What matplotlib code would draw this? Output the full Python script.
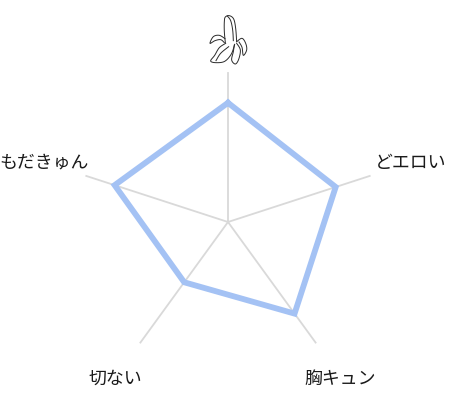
import matplotlib
matplotlib.use('Agg')
import matplotlib.pyplot as plt
import numpy as np

plt.rcParams['font.family'] = ['Noto Sans CJK JP', 'DejaVu Sans']

labels = ['', 'どエロい', '胸キュン', '切ない', 'もだきゅん']
values = [0.8, 0.76, 0.76, 0.5, 0.8]
axis_max = 1.0

W, H = 450, 403
fig = plt.figure(figsize=(W / 100, H / 100), dpi=100)

# centre of the radar is at (228, 222) px, radius 149 px
ax = fig.add_axes([(228 - 149) / W, (H - 222 - 149) / H, 298 / W, 298 / H], polar=True)
ax.set_theta_zero_location('N')
ax.set_theta_direction(-1)
ax.set_ylim(0, axis_max)
ax.axis('off')

theta = np.linspace(0, 2 * np.pi, len(values), endpoint=False)

for t in theta:
    ax.plot([t, t], [0, axis_max], color='#d9d9d9', lw=1.3, clip_on=False)

ax.plot(np.append(theta, theta[0]), values + values[:1], color='#a4c2f4', lw=4.2,
        solid_joinstyle='miter', clip_on=False)

# label anchors, in px from the top left
label_xy = [None, (411, 163), (340, 379), (115, 379), (44, 163)]
for text, xy in zip(labels, label_xy):
    if xy is not None:
        fig.text(xy[0] / W, 1 - xy[1] / H, text, fontsize=12.9, color='#1a1a1a',
                 ha='center', va='center')

# banana icon at the top axis, traced by hand
icon = fig.add_axes([190 / W, 1 - 110 / H, 80 / W, 110 / H])
icon.set_xlim(0, 240)
icon.set_ylim(330, 0)
icon.axis('off')


def smooth(pts, n=12):
    # catmull-rom through the traced points
    p = np.array([pts[0]] + pts + [pts[-1]], dtype=float)
    out = []
    for i in range(1, len(p) - 2):
        for u in np.linspace(0, 1, n):
            out.append(0.5 * (2 * p[i] + (p[i + 1] - p[i - 1]) * u
                              + (2 * p[i - 1] - 5 * p[i] + 4 * p[i + 1] - p[i + 2]) * u ** 2
                              + (3 * p[i] - p[i - 1] - 3 * p[i + 1] + p[i + 2]) * u ** 3))
    return np.array(out)


strokes = [
    [(106, 128), (103, 95), (103, 65), (106, 51), (118, 47), (131, 57), (137, 85), (140, 125)],
    [(112, 48), (122, 62), (128, 90), (130, 122)],
    [(105, 116), (88, 106), (70, 110), (60, 130), (75, 122), (92, 119), (103, 128)],
    [(107, 130), (88, 143), (74, 166), (62, 183), (78, 188), (104, 184), (124, 162), (134, 133)],
    [(78, 182), (92, 160), (116, 140)],
    [(140, 125), (156, 115), (167, 130), (170, 150), (160, 166), (156, 142), (147, 126)],
    [(140, 130), (151, 150), (146, 178), (136, 192), (125, 180), (130, 155), (133, 135)],
]
for pts in strokes:
    xy = smooth(pts)
    icon.plot(xy[:, 0], xy[:, 1], color='#2a2a2a', lw=0.7)

fig.savefig('out.png', dpi=100)
